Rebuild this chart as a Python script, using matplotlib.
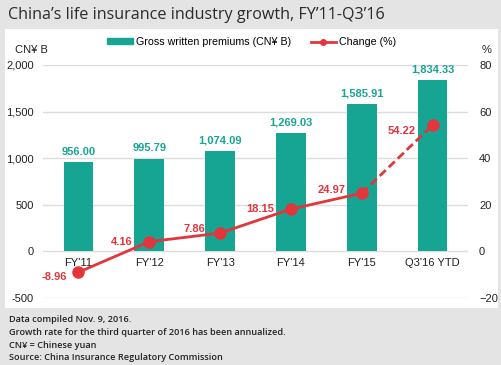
import matplotlib.pyplot as plt
from matplotlib.patches import Rectangle
from matplotlib.lines import Line2D

# chart data
categories = ["FY'11", "FY'12", "FY'13", "FY'14", "FY'15", "Q3'16 YTD"]
premiums = [956.00, 995.79, 1074.09, 1269.03, 1585.91, 1834.33]
change = [-8.96, 4.16, 7.86, 18.15, 24.97, 54.22]
left_ticks = [-500, 0, 500, 1000, 1500, 2000]
right_ticks = [-20, 0, 20, 40, 60, 80]

# where each red label sits relative to its point (pixels)
label_offsets = [(-11, -5), (-17, 0), (-15, 4), (-17, 0), (-16, 3), (-17, -6)]

teal = '#16a592'
red = '#e2363c'
bg = '#e4e4e4'
grid = '#dcdcdc'

plt.rcParams['font.family'] = ['Liberation Sans', 'DejaVu Sans']

W, H = 501, 365
fig = plt.figure(figsize=(W / 100, H / 100), dpi=100)
fig.patch.set_facecolor(bg)

# white panel behind chart
fig.patches.append(Rectangle((5 / W, 1 - 308 / H), 493 / W, 279 / H,
                             transform=fig.transFigure, facecolor='white',
                             edgecolor='none', zorder=-5))

fig.text(8 / W, 1 - 15 / H, "China\u2019s life insurance industry growth, FY\u201911-Q3\u201916",
         fontsize=11.6, family='Open Sans', color='#2b2b2b', va='center', ha='left')

notes = ["Data compiled Nov. 9, 2016.",
         "Growth rate for the third quarter of 2016 has been annualized.",
         "CN\u00a5 = Chinese yuan",
         "Source: China Insurance Regulatory Commission"]
for i, line in enumerate(notes):
    fig.text(9 / W, 1 - (320 + i * 12.5) / H, line, fontsize=6.6, family='Open Sans',
             fontweight='semibold', color='#222222', va='center', ha='left')

ax = fig.add_axes([43 / W, 1 - 298 / H, 425 / W, 233 / H])
ax.set_facecolor('none')
x = list(range(len(categories)))
ax.bar(x, premiums, width=0.42, color=teal, zorder=2)
ax.set_xlim(-0.5, len(categories) - 0.5)
ax.set_ylim(-500, 2000)
ax.set_yticks(left_ticks)
ax.set_yticklabels([f'{v:,}' for v in left_ticks])
ax.yaxis.grid(True, color=grid, linewidth=1)
ax.set_axisbelow(True)
ax.set_xticks([])
ax.tick_params(axis='y', length=0, labelsize=8, pad=6.5, colors='#222222')
for s in ax.spines.values():
    s.set_visible(False)

for i, v in enumerate(premiums):
    ax.annotate(f'{v:,.2f}', (i, v), xytext=(0, 4), textcoords='offset points',
                ha='center', va='bottom', color=teal, fontsize=8, fontweight='bold')
    ax.annotate(categories[i], (i, 0), xytext=(0, -5), textcoords='offset points',
                ha='center', va='top', color='#222222', fontsize=8)

ax2 = ax.twinx()
ax2.set_ylim(-20, 80)
ax2.set_yticks(right_ticks)
ax2.tick_params(axis='y', length=0, labelsize=8, pad=8, colors='#222222')
for s in ax2.spines.values():
    s.set_visible(False)
ax2.plot(x[:5], change[:5], color=red, linewidth=2, zorder=3)
ax2.plot(x[4:], change[4:], color=red, linewidth=2, linestyle=(0, (3, 1.5)), zorder=3)
ax2.plot(x, change, 'o', color=red, markersize=8, zorder=4)
for i, v in enumerate(change):
    ax2.annotate(f'{v:.2f}', (i, v), xytext=label_offsets[i], textcoords='offset pixels',
                 ha='right', va='center', color=red, fontsize=8, fontweight='bold')

fig.text(15 / W, 1 - 50 / H, 'CN\u00a5 B', fontsize=8, color='#222222', va='center')
fig.text(482 / W, 1 - 50 / H, '%', fontsize=8, color='#222222', va='center')

# legend
handles = [Rectangle((0, 0), 1, 1, color=teal),
           Line2D([0], [0], color=red, linewidth=2, marker='o', markersize=4)]
fig.legend(handles, ['Gross written premiums (CN\u00a5 B)', 'Change (%)'],
           loc='center', bbox_to_anchor=(252 / W, 1 - 42 / H), ncol=2, frameon=False,
           fontsize=7.7, handlelength=2.4, handletextpad=0.3, columnspacing=1.8,
           handleheight=0.5)

fig.savefig('out.png', dpi=100, facecolor=bg)
